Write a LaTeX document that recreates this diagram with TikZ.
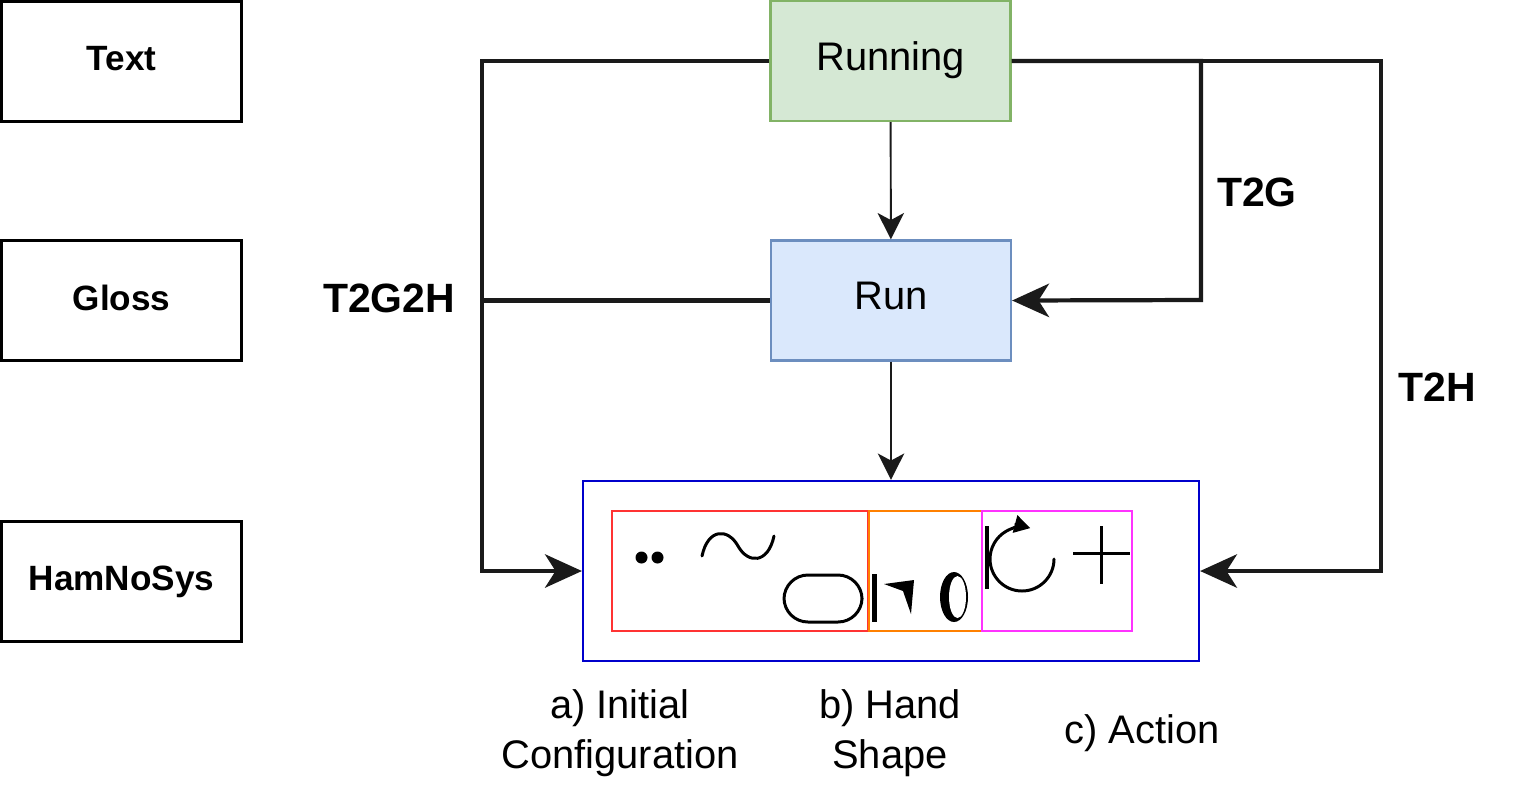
\documentclass[tikz,border=0pt]{standalone}
\usepackage{fontspec}
\setmainfont{Liberation Sans}
\usepackage{tikz}
\usetikzlibrary{arrows.meta, positioning, shapes}
\definecolor{runfill}{HTML}{D5E8D4}
\definecolor{rundraw}{HTML}{82B366}
\definecolor{glossfill}{HTML}{DAE8FC}
\definecolor{glossdraw}{HTML}{6C8EBF}
\definecolor{hamblue}{HTML}{0000CC}
\definecolor{partred}{HTML}{FF3333}
\definecolor{partorange}{HTML}{FF8000}
\definecolor{partpink}{HTML}{FF33FF}
\definecolor{ink}{HTML}{1A1A1A}
\tikzset{
        level box/.style={
		draw, line width=1.3pt,
		minimum width=4.8cm, minimum height=2.4cm,
		text depth=0.12cm,
		font=\fontsize{20}{24}\selectfont\bfseries,
	  },
      word box/.style={
		draw=#1draw, fill=#1fill, line width=1.3pt,
		minimum width=4.8cm, minimum height=2.4cm,
		text depth=0.2cm,
		font=\fontsize{22.7}{27}\selectfont,
	  },
      part box/.style={
		draw=#1, line width=1.2pt,
		minimum height=2.4cm, inner sep=0pt,
	  },
      bus/.style={
		draw=ink, line width=2.4pt,
	  },
      bus arrow/.style={
		bus, -{Stealth[length=21pt, width=19pt, inset=6pt]},
	  },
      feed/.style={
		draw=ink, line width=1.1pt,
		-{Stealth[length=15pt, width=15pt, inset=4pt]},
	  },
  		route/.style={
    	font=\fontsize{23.3}{28}\selectfont\bfseries,
      },
  		caption/.style={
    	font=\fontsize{22.7}{28.4}\selectfont, align=center,
      },
      glyph/.style={
    	line width=1.7pt, line cap=round,
      }
  	}
\begin{document}
\begin{tikzpicture}[x=0.02cm, y=-0.02cm]
    \useasboundingbox (0,0) rectangle (1533,789);
    % levels
    \node [level box] (text) at (121.5,61.5) {Text};
    \node [level box] (gloss) at (121.5,300.5) {Gloss};
    \node [level box] (hns) at (121.5,581.5) {HamNoSys};
    % words
    \node [word box=run] (running) at (890.5,61) {Running};
    \node [word box=gloss] (run) at (891,300.5) {Run};
    \node [draw=hamblue, line width=1.3pt, minimum width=12.32cm, minimum height=3.6cm] (ham) at (891,571) {};
    \node [part box=partred, minimum width=5.12cm] (initial) at (740,571) {};
    \node [part box=partorange, minimum width=2.26cm] (hand) at (925.5,571) {};
    \node [part box=partpink, minimum width=3cm] (action) at (1057,571) {};
    % connectors
    \coordinate (leftbus) at (482,300);
    \coordinate (glossbus) at (1201,300);
    \coordinate (hambus) at (1381,571);
    \draw [feed] (running) -- (run);
    \draw [feed] (run) -- (ham);
    \draw [bus arrow] (running.west) -| (leftbus) |- (ham.west);
    \draw [bus] (run.west) -- (run.west -| leftbus);
    \draw [bus arrow] (running.east) -| (glossbus) -- (run.east);
    \draw [bus arrow] (running.east) -| (hambus) -- (ham.east);
    \node [route] (t2g2h) at (389,298) {T2G2H};
    \node [route] (t2g) at (1257,192) {T2G};
    \node [route] (t2h) at (1437,387) {T2H};
    % hamnosys glyphs
    \fill (641.5,557.5) circle (0.12cm) (657.5,557.5) circle (0.12cm);
    \draw [glyph] (702,556) .. controls (708,528) and (728,528) .. (738,546)
        .. controls (748,564) and (768,564) .. (774,536);
    \draw [glyph, rounded corners=0.48cm] (784,575) rectangle (862,622);
    \draw [line width=2.3pt] (874.5,574) -- (874.5,622);
    \fill (884,584) -- (914,580) -- (911,614) -- (903,591) -- cycle;
    \fill (954,597) ellipse [x radius=0.28cm, y radius=0.5cm];
    \fill [white] (957.5,597) ellipse [x radius=0.17cm, y radius=0.42cm];
    \draw [line width=2.3pt] (987,526) -- (987,589);
    \draw [glyph, -{Triangle[length=9pt, width=10pt]}] (1054,559) arc [start angle=0, end angle=-285, radius=0.64cm];
    \draw [glyph, line cap=butt] (1073,553) -- (1130,553) (1101,526) -- (1101,584);
    % captions
    \node [caption] (capa) at (620,733) {a) Initial\\Configuration};
    \node [caption] (capb) at (890,733) {b) Hand\\Shape};
    \node [caption] (capc) at (1142,733) {c) Action};
  \end{tikzpicture}
\end{document}
